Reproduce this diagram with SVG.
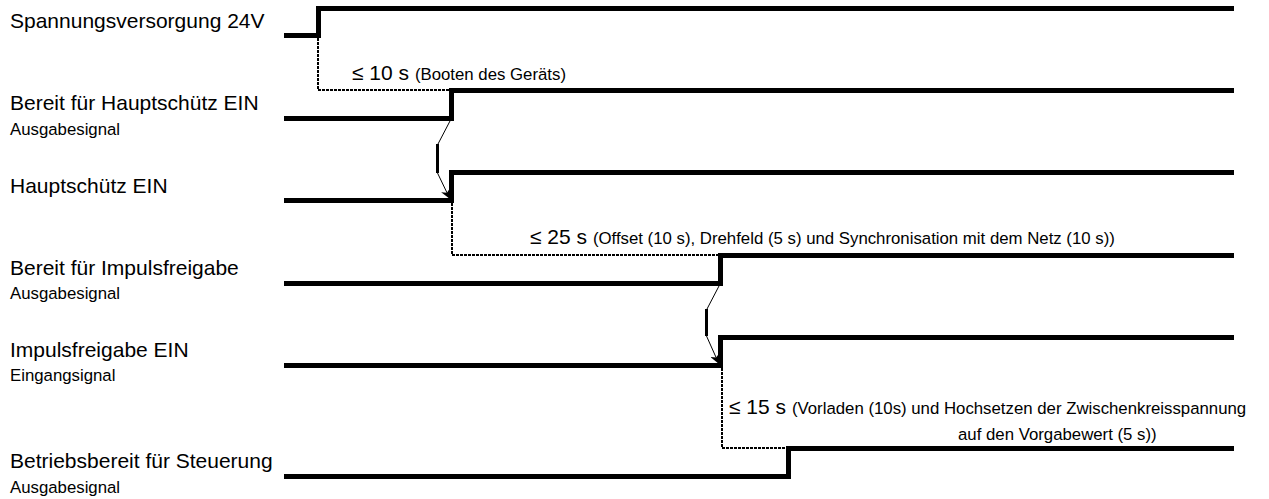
<svg xmlns="http://www.w3.org/2000/svg" width="1269" height="499" viewBox="0 0 1269 499">
<defs>
<style>
text{font-family:"Liberation Sans",Arial,sans-serif;fill:#000}
.lbl{font-size:21px}
.sub{font-size:16.8px}
.big{font-size:21px}
.sig{fill:none;stroke:#000;stroke-width:5;stroke-linejoin:miter;stroke-linecap:butt}
.dot{fill:none;stroke:#000;stroke-width:2;stroke-dasharray:3 1}
.thin{fill:none;stroke:#000;stroke-width:1}
.thick{fill:none;stroke:#000;stroke-width:3}
</style>
<marker id="ah" viewBox="0 0 10 10" refX="10" refY="5" markerWidth="10" markerHeight="10" markerUnits="userSpaceOnUse" orient="auto">
<path d="M0,0 L10,5 L0,10 L3,5 Z" fill="#000"/>
</marker>
</defs>
<rect width="1269" height="499" fill="#fff"/>

<g id="sig1">
<text class="lbl" x="10" y="28">Spannungsversorgung 24V</text>
<path class="sig" d="M284,35.5 H318.5 V8.5 H1234"/>
</g>
<g id="sig2">
<text class="lbl" x="10" y="110">Bereit für Hauptschütz EIN</text>
<text class="sub" x="10" y="135">Ausgabesignal</text>
<path class="sig" d="M284,118.5 H451.5 V90.5 H1234"/>
</g>
<g id="sig3">
<text class="lbl" x="10" y="193">Hauptschütz EIN</text>
<path class="sig" d="M284,200.5 H451.5 V172.5 H1234"/>
</g>
<g id="sig4">
<text class="lbl" x="10" y="275">Bereit für Impulsfreigabe</text>
<text class="sub" x="10" y="299">Ausgabesignal</text>
<path class="sig" d="M284,283.5 H720.5 V255.5 H1234"/>
</g>
<g id="sig5">
<text class="lbl" x="10" y="357">Impulsfreigabe EIN</text>
<text class="sub" x="10" y="381">Eingangsignal</text>
<path class="sig" d="M284,365.5 H720.5 V337.5 H1234"/>
</g>
<g id="sig6">
<text class="lbl" x="10" y="468">Betriebsbereit für Steuerung</text>
<text class="sub" x="10" y="493">Ausgabesignal</text>
<path class="sig" d="M284,476.5 H788.5 V448.5 H1234"/>
</g>

<g id="connectors">
<path class="dot" d="M318,38 V90 H449"/>
<path class="dot" d="M452,203 V255 H718"/>
<path class="dot" d="M722,368 V448 H786"/>
<path class="thin" d="M450,121 L438,144"/>
<path class="thick" d="M437.5,144 V173"/>
<path class="thin" d="M437.5,173 L450,199" marker-end="url(#ah)"/>
<path class="thin" d="M719,286 L707,309"/>
<path class="thick" d="M706.5,309 V336"/>
<path class="thin" d="M706.5,336 L719,364" marker-end="url(#ah)"/>
</g>

<g id="annotations">
<text x="352" y="80"><tspan class="big">≤ 10 s </tspan><tspan class="sub">(Booten des Geräts)</tspan></text>
<text x="530" y="244"><tspan class="big">≤ 25 s </tspan><tspan class="sub">(Offset (10 s), Drehfeld (5 s) und Synchronisation mit dem Netz (10 s))</tspan></text>
<text x="729" y="414"><tspan class="big">≤ 15 s </tspan><tspan class="sub">(Vorladen (10s) und Hochsetzen der Zwischenkreisspannung</tspan></text>
<text class="sub" x="958" y="440">auf den Vorgabewert (5 s))</text>
</g>
</svg>
